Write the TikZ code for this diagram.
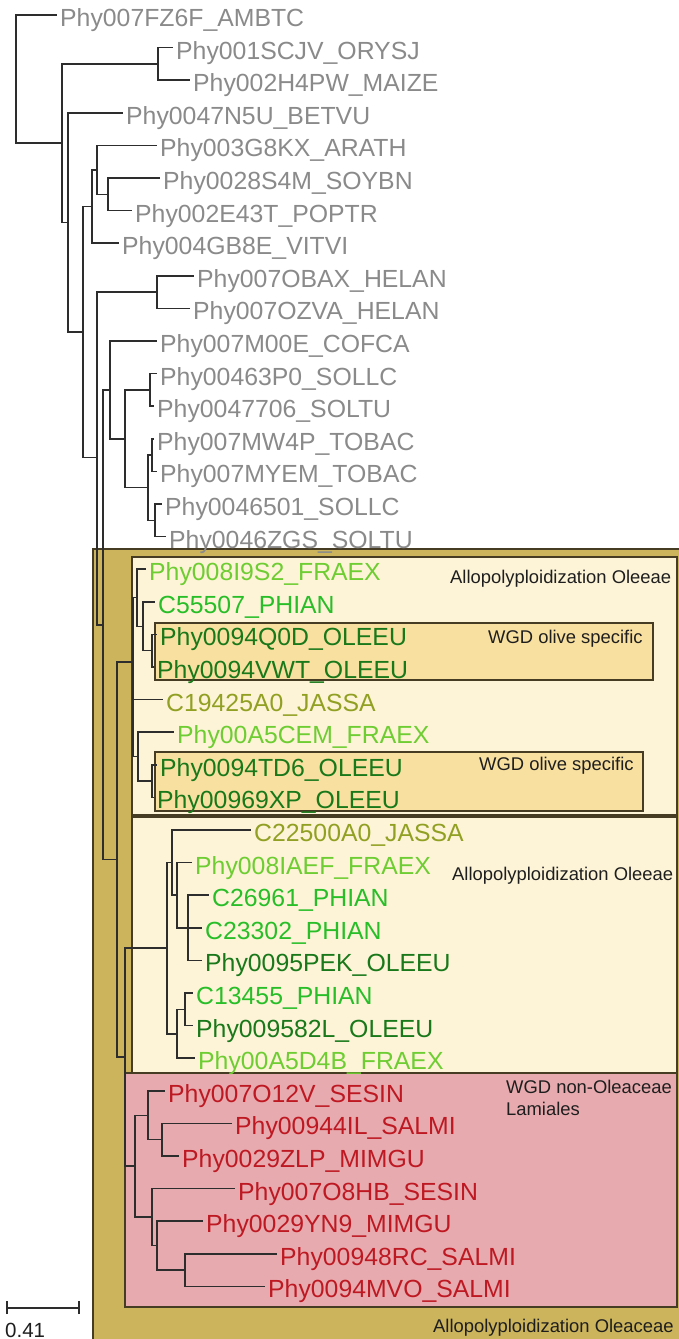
\documentclass[tikz,border=0pt]{standalone}
\usepackage{fontspec}
\setmainfont{Liberation Sans}
\definecolor{treeline}{RGB}{45,45,45}
\definecolor{greytxt}{RGB}{138,138,138}
\definecolor{fraex}{RGB}{110,205,50}
\definecolor{phian}{RGB}{40,190,40}
\definecolor{oleeu}{RGB}{25,120,25}
\definecolor{jassa}{RGB}{145,160,35}
\definecolor{redtxt}{RGB}{190,25,35}
\definecolor{goldfill}{RGB}{203,180,92}
\definecolor{creamfill}{RGB}{253,244,216}
\definecolor{wgdfill}{RGB}{248,224,160}
\definecolor{pinkfill}{RGB}{231,171,175}
\definecolor{boxline}{RGB}{70,60,35}
\definecolor{notetxt}{RGB}{30,30,30}
\tikzset{
  lf/.style={anchor=west, inner xsep=3pt, inner ysep=0pt, text height=22.8pt, text depth=0pt, font=\fontsize{24.8}{27}\selectfont},
  br/.style={draw=treeline, line width=1.5pt},
  note/.style={anchor=base west, inner sep=0pt, font=\fontsize{18.4}{22}\selectfont, text=notetxt},
  gbox/.style={draw=boxline, line width=1.2pt},
}
\begin{document}
\begin{tikzpicture}[x=1pt,y=-1pt]
\useasboundingbox (0,0) rectangle (679,1339);
% ---------- boxes ----------
\path[gbox, fill=goldfill] (93,549) rectangle (682,1342);
\path[gbox, fill=creamfill] (132,557) rectangle (677,815);
\path[gbox, fill=creamfill] (132,817) rectangle (677,1073);
\path[gbox, fill=pinkfill] (125,1073) rectangle (677,1307);
\path[gbox, fill=wgdfill] (155,623) rectangle (653,680);
\path[gbox, fill=wgdfill] (155,752) rectangle (643,811);
% ---------- notes ----------
\node[note] (n1) at (450,583) {Allopolyploidization Oleeae};
\node[note] (n2) at (488,643) {WGD olive specific};
\node[note] (n3) at (479,770) {WGD olive specific};
\node[note] (n4) at (452,880) {Allopolyploidization Oleeae};
\node[note] (n5) at (506,1093) {WGD non-Oleaceae};
\node[note] (n6) at (506,1115) {Lamiales};
\node[note] (n7) at (433,1332) {Allopolyploidization Oleaceae};
% ---------- leaves ----------
\node[lf, text=greytxt] (l1) at (57,15) {Phy007FZ6F\_AMBTC};
\node[lf, text=greytxt] (l2) at (173,47.6) {Phy001SCJV\_ORYSJ};
\node[lf, text=greytxt] (l3) at (190,80.2) {Phy002H4PW\_MAIZE};
\node[lf, text=greytxt] (l4) at (123,112.8) {Phy0047N5U\_BETVU};
\node[lf, text=greytxt] (l5) at (157,145.4) {Phy003G8KX\_ARATH};
\node[lf, text=greytxt] (l6) at (160,178) {Phy0028S4M\_SOYBN};
\node[lf, text=greytxt] (l7) at (132,210.6) {Phy002E43T\_POPTR};
\node[lf, text=greytxt] (l8) at (119,243.2) {Phy004GB8E\_VITVI};
\node[lf, text=greytxt] (l9) at (194,275.8) {Phy007OBAX\_HELAN};
\node[lf, text=greytxt] (l10) at (190,308.4) {Phy007OZVA\_HELAN};
\node[lf, text=greytxt] (l11) at (157,341) {Phy007M00E\_COFCA};
\node[lf, text=greytxt] (l12) at (157,373.6) {Phy00463P0\_SOLLC};
\node[lf, text=greytxt] (l13) at (154,406.2) {Phy0047706\_SOLTU};
\node[lf, text=greytxt] (l14) at (154,438.8) {Phy007MW4P\_TOBAC};
\node[lf, text=greytxt] (l15) at (157,471.4) {Phy007MYEM\_TOBAC};
\node[lf, text=greytxt] (l16) at (162,504) {Phy0046501\_SOLLC};
\node[lf, text=greytxt] (l17) at (166,536.6) {Phy0046ZGS\_SOLTU};
\node[lf, text=fraex] (l18) at (146,569.2) {Phy008I9S2\_FRAEX};
\node[lf, text=phian] (l19) at (155,601.8) {C55507\_PHIAN};
\node[lf, text=oleeu] (l20) at (157,634.4) {Phy0094Q0D\_OLEEU};
\node[lf, text=oleeu] (l21) at (154,667) {Phy0094VWT\_OLEEU};
\node[lf, text=jassa] (l22) at (163,699.6) {C19425A0\_JASSA};
\node[lf, text=fraex] (l23) at (174,732.2) {Phy00A5CEM\_FRAEX};
\node[lf, text=oleeu] (l24) at (157,764.8) {Phy0094TD6\_OLEEU};
\node[lf, text=oleeu] (l25) at (154,797.4) {Phy00969XP\_OLEEU};
\node[lf, text=jassa] (l26) at (251,830) {C22500A0\_JASSA};
\node[lf, text=fraex] (l27) at (192,862.6) {Phy008IAEF\_FRAEX};
\node[lf, text=phian] (l28) at (209,895.2) {C26961\_PHIAN};
\node[lf, text=phian] (l29) at (202,927.8) {C23302\_PHIAN};
\node[lf, text=oleeu] (l30) at (202,960.4) {Phy0095PEK\_OLEEU};
\node[lf, text=phian] (l31) at (193,993) {C13455\_PHIAN};
\node[lf, text=oleeu] (l32) at (193,1025.6) {Phy009582L\_OLEEU};
\node[lf, text=fraex] (l33) at (195,1058.2) {Phy00A5D4B\_FRAEX};
\node[lf, text=redtxt] (l34) at (165,1090.8) {Phy007O12V\_SESIN};
\node[lf, text=redtxt] (l35) at (232,1123.4) {Phy00944IL\_SALMI};
\node[lf, text=redtxt] (l36) at (179,1156) {Phy0029ZLP\_MIMGU};
\node[lf, text=redtxt] (l37) at (235,1188.6) {Phy007O8HB\_SESIN};
\node[lf, text=redtxt] (l38) at (203,1221.2) {Phy0029YN9\_MIMGU};
\node[lf, text=redtxt] (l39) at (277,1253.8) {Phy00948RC\_SALMI};
\node[lf, text=redtxt] (l40) at (265,1286.4) {Phy0094MVO\_SALMI};
% ---------- internal nodes ----------
\coordinate (R) at (16,79);
\coordinate (N1) at (62,143.2);
\coordinate (M) at (158,63.9);
\coordinate (N2) at (68,222.4);
\coordinate (N3) at (83,332);
\coordinate (E) at (92,206.5);
\coordinate (F) at (97,169.9);
\coordinate (G) at (108,194.3);
\coordinate (A) at (97,457.5);
\coordinate (H) at (157,292.1);
\coordinate (B) at (103,624.8);
\coordinate (L) at (110,389.9);
\coordinate (S) at (125,438.8);
\coordinate (S1) at (150,389.9);
\coordinate (S2) at (148,487.7);
\coordinate (T) at (152,455.1);
\coordinate (U) at (155,520.3);
\coordinate (O) at (117,859.6);
\coordinate (P1) at (133,662);
\coordinate (c) at (137,597.7);
\coordinate (b) at (143,626.3);
\coordinate (a) at (152,650.7);
\coordinate (d) at (138,756.7);
\coordinate (e) at (152,781.1);
\coordinate (Q) at (125,1057.2);
\coordinate (V) at (167,948.2);
\coordinate (V1) at (172,862.6);
\coordinate (V3) at (177,895.2);
\coordinate (V4) at (188,927.8);
\coordinate (V2) at (177,1033.8);
\coordinate (V5) at (185,1009.3);
\coordinate (W) at (135,1166.2);
\coordinate (X1) at (148,1115.3);
\coordinate (X3) at (162,1139.7);
\coordinate (X2) at (152,1217.2);
\coordinate (X4) at (157,1245.7);
\coordinate (X5) at (185,1270.1);
% ---------- branches ----------
\draw[br] (R) |- (l1.west);
\draw[br] (R) |- (N1);
\draw[br] (N1) |- (M);
\draw[br] (N1) |- (N2);
\draw[br] (M) |- (l2.west);
\draw[br] (M) |- (l3.west);
\draw[br] (N2) |- (l4.west);
\draw[br] (N2) |- (N3);
\draw[br] (N3) |- (E);
\draw[br] (N3) |- (A);
\draw[br] (E) |- (F);
\draw[br] (E) |- (l8.west);
\draw[br] (F) |- (l5.west);
\draw[br] (F) |- (G);
\draw[br] (G) |- (l6.west);
\draw[br] (G) |- (l7.west);
\draw[br] (A) |- (H);
\draw[br] (A) |- (B);
\draw[br] (H) |- (l9.west);
\draw[br] (H) |- (l10.west);
\draw[br] (B) |- (L);
\draw[br] (B) |- (O);
\draw[br] (L) |- (l11.west);
\draw[br] (L) |- (S);
\draw[br] (S) |- (S1);
\draw[br] (S) |- (S2);
\draw[br] (S1) |- (l12.west);
\draw[br] (S1) |- (l13.west);
\draw[br] (S2) |- (T);
\draw[br] (S2) |- (U);
\draw[br] (T) |- (l14.west);
\draw[br] (T) |- (l15.west);
\draw[br] (U) |- (l16.west);
\draw[br] (U) |- (l17.west);
\draw[br] (O) |- (P1);
\draw[br] (O) |- (Q);
\draw[br] (P1) |- (c);
\draw[br] (P1) |- (l22.west);
\draw[br] (P1) |- (d);
\draw[br] (c) |- (l18.west);
\draw[br] (c) |- (b);
\draw[br] (b) |- (l19.west);
\draw[br] (b) |- (a);
\draw[br] (a) |- (l20.west);
\draw[br] (a) |- (l21.west);
\draw[br] (d) |- (l23.west);
\draw[br] (d) |- (e);
\draw[br] (e) |- (l24.west);
\draw[br] (e) |- (l25.west);
\draw[br] (Q) |- (V);
\draw[br] (Q) |- (W);
\draw[br] (V) |- (V1);
\draw[br] (V) |- (V2);
\draw[br] (V1) |- (l26.west);
\draw[br] (V1) |- (V3);
\draw[br] (V3) |- (l27.west);
\draw[br] (V3) |- (V4);
\draw[br] (V4) |- (l28.west);
\draw[br] (V4) |- (l29.west);
\draw[br] (V4) |- (l30.west);
\draw[br] (V2) |- (V5);
\draw[br] (V2) |- (l33.west);
\draw[br] (V5) |- (l31.west);
\draw[br] (V5) |- (l32.west);
\draw[br] (W) |- (X1);
\draw[br] (W) |- (X2);
\draw[br] (X1) |- (l34.west);
\draw[br] (X1) |- (X3);
\draw[br] (X3) |- (l35.west);
\draw[br] (X3) |- (l36.west);
\draw[br] (X2) |- (l37.west);
\draw[br] (X2) |- (X4);
\draw[br] (X4) |- (l38.west);
\draw[br] (X4) |- (X5);
\draw[br] (X5) |- (l39.west);
\draw[br] (X5) |- (l40.west);
% ---------- scale bar ----------
\coordinate (sb1) at (7,1308);
\coordinate (sb2) at (79,1308);
\draw[br, line width=1.2pt] (sb1) -- (sb2);
\draw[br, line width=1.2pt] ([yshift=-6pt]sb1) -- ([yshift=7pt]sb1);
\draw[br, line width=1.2pt] ([yshift=-6pt]sb2) -- ([yshift=7pt]sb2);
\node[anchor=base west, inner sep=0pt, font=\fontsize{20.5}{23}\selectfont, text=notetxt] (sbl) at (5,1337) {0.41};
\end{tikzpicture}
\end{document}
